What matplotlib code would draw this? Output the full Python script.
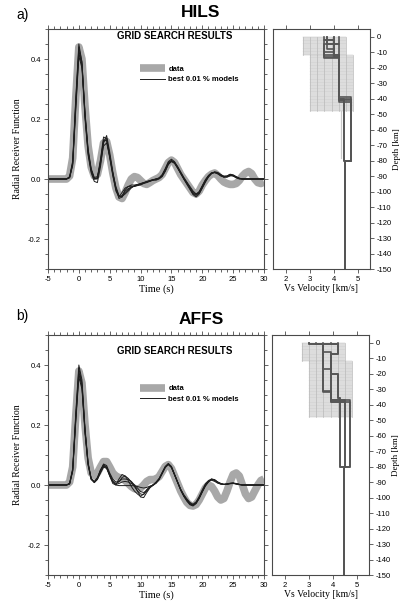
import matplotlib
matplotlib.use('Agg')
from matplotlib import pyplot
from matplotlib.ticker import MultipleLocator, FormatStrFormatter

pyplot.rcParams['font.family'] = ['Liberation Sans', 'DejaVu Sans']
pyplot.rcParams['axes.unicode_minus'] = False

# time samples (s)
time = [-5, -2, -1.5, -1, -0.5, 0, 0.5, 1, 1.5, 2,
        2.5, 3, 3.5, 4, 4.5, 5, 5.5, 6, 6.5, 7,
        7.5, 8, 8.5, 9, 9.5, 10, 10.5, 11, 11.5, 12,
        12.5, 13, 13.5, 14, 14.5, 15, 15.5, 16, 16.5, 17,
        17.5, 18, 18.5, 19, 19.5, 20, 20.5, 21, 21.5, 22,
        22.5, 23, 23.5, 24, 24.5, 25, 25.5, 26, 26.5, 27,
        27.5, 28, 28.5, 29, 29.5, 30]

# ---- HILS ----
hils_data = [0.0, 0.0, 0.01, 0.07, 0.27, 0.44, 0.40, 0.24, 0.11, 0.04,
             0.01, 0.015, 0.06, 0.12, 0.125, 0.08, 0.02, -0.03, -0.06, -0.065,
             -0.045, -0.02, 0.0, 0.008, 0.005, -0.005, -0.015, -0.018, -0.012, -0.005,
             0.0, 0.005, 0.015, 0.035, 0.055, 0.063, 0.055, 0.035, 0.015, 0.0,
             -0.015, -0.03, -0.045, -0.05, -0.04, -0.02, -0.005, 0.008, 0.016, 0.02,
             0.012, 0.0, -0.01, -0.015, -0.018, -0.018, -0.015, -0.005, 0.01, 0.02,
             0.025, 0.018, 0.0, -0.012, -0.015, -0.01]

hils_models = [
    [0.0, 0.0, 0.005, 0.05, 0.25, 0.43, 0.38, 0.21, 0.09, 0.03,
     0.0, 0.0, 0.06, 0.13, 0.13, 0.07, 0.01, -0.035, -0.06, -0.055,
     -0.04, -0.032, -0.027, -0.024, -0.021, -0.018, -0.014, -0.01, -0.007, -0.004,
     -0.002, 0.002, 0.012, 0.032, 0.055, 0.062, 0.055, 0.038, 0.02, 0.003,
     -0.012, -0.03, -0.05, -0.055, -0.045, -0.025, -0.005, 0.01, 0.02, 0.023,
     0.02, 0.012, 0.006, 0.008, 0.013, 0.01, 0.004, 0.0, 0.0, 0.0,
     0.0, 0.0, 0.0, 0.0, 0.0, 0.0],
    [0.0, 0.0, 0.008, 0.06, 0.27, 0.45, 0.39, 0.22, 0.10, 0.035,
     0.005, 0.008, 0.05, 0.11, 0.12, 0.075, 0.02, -0.025, -0.055, -0.06,
     -0.045, -0.035, -0.028, -0.022, -0.02, -0.016, -0.012, -0.008, -0.005, -0.002,
     0.0, 0.004, 0.015, 0.035, 0.058, 0.066, 0.058, 0.04, 0.02, 0.0,
     -0.018, -0.035, -0.052, -0.06, -0.05, -0.03, -0.01, 0.006, 0.018, 0.024,
     0.022, 0.015, 0.008, 0.006, 0.01, 0.012, 0.007, 0.002, 0.0, 0.0,
     0.0, 0.0, 0.0, 0.0, 0.0, 0.0],
    [0.0, 0.0, 0.004, 0.045, 0.23, 0.41, 0.37, 0.20, 0.08, 0.02,
     -0.008, -0.012, 0.04, 0.12, 0.145, 0.09, 0.025, -0.03, -0.065, -0.06,
     -0.035, -0.025, -0.02, -0.02, -0.018, -0.015, -0.012, -0.01, -0.006, -0.003,
     -0.004, 0.0, 0.008, 0.025, 0.048, 0.058, 0.052, 0.036, 0.018, 0.0,
     -0.015, -0.028, -0.045, -0.05, -0.042, -0.022, -0.002, 0.012, 0.021, 0.022,
     0.017, 0.01, 0.008, 0.01, 0.015, 0.012, 0.006, 0.002, 0.0, 0.0,
     0.0, 0.0, 0.0, 0.0, 0.0, 0.0],
    [0.0, 0.0, 0.006, 0.055, 0.26, 0.44, 0.39, 0.21, 0.085, 0.025,
     0.0, 0.005, 0.065, 0.14, 0.135, 0.075, 0.015, -0.04, -0.06, -0.045,
     -0.03, -0.025, -0.024, -0.025, -0.022, -0.02, -0.015, -0.012, -0.008, -0.004,
     0.0, 0.003, 0.01, 0.028, 0.05, 0.06, 0.056, 0.042, 0.024, 0.006,
     -0.01, -0.025, -0.04, -0.05, -0.048, -0.03, -0.01, 0.008, 0.018, 0.022,
     0.02, 0.014, 0.01, 0.01, 0.016, 0.014, 0.008, 0.003, 0.0, 0.0,
     0.0, 0.0, 0.0, 0.0, 0.0, 0.0],
    [0.0, 0.0, 0.005, 0.05, 0.24, 0.42, 0.38, 0.22, 0.095, 0.03,
     0.002, 0.002, 0.055, 0.125, 0.13, 0.08, 0.02, -0.03, -0.058, -0.058,
     -0.05, -0.04, -0.03, -0.023, -0.019, -0.017, -0.013, -0.009, -0.006, -0.003,
     0.0, 0.002, 0.01, 0.03, 0.052, 0.06, 0.054, 0.037, 0.019, 0.002,
     -0.014, -0.032, -0.048, -0.052, -0.043, -0.024, -0.006, 0.01, 0.019, 0.021,
     0.018, 0.011, 0.006, 0.007, 0.012, 0.01, 0.005, 0.001, 0.0, 0.0,
     0.0, 0.0, 0.0, 0.0, 0.0, 0.0],
]

# velocity models: layer top depths (km) and Vs (km/s)
hils_tops = [[0, -2, -12, -40, -80],
             [0, -5, -13, -41, -80],
             [0, -8, -12, -39, -80],
             [0, -10, -14, -42, -80],
             [0, -2, -13, -40, -80],
             [0, -5, -12, -41, -80]]
hils_vs = [[4.0, 3.6, 4.2, 4.7, 4.45],
           [4.2, 3.6, 4.2, 4.4, 4.45],
           [3.7, 4.0, 4.2, 4.7, 4.45],
           [4.0, 3.6, 4.2, 4.7, 4.45],
           [3.6, 4.0, 4.2, 4.4, 4.45],
           [3.7, 4.2, 4.2, 4.7, 4.45]]

# ---- AFFS ----
affs_data = [0.0, 0.0, 0.01, 0.06, 0.23, 0.38, 0.34, 0.20, 0.09, 0.04,
             0.03, 0.04, 0.06, 0.078, 0.078, 0.06, 0.04, 0.03, 0.025, 0.022,
             0.015, 0.005, -0.005, -0.012, -0.015, -0.01, 0.0, 0.012, 0.018, 0.018,
             0.02, 0.028, 0.045, 0.062, 0.068, 0.055, 0.03, 0.005, -0.02, -0.04,
             -0.058, -0.068, -0.07, -0.065, -0.05, -0.03, -0.01, 0.0, -0.005, -0.02,
             -0.04, -0.05, -0.045, -0.02, 0.01, 0.035, 0.04, 0.03, 0.0, -0.03,
             -0.045, -0.04, -0.02, 0.0, 0.015, 0.02]

affs_models = [
    [0.0, 0.0, 0.004, 0.05, 0.22, 0.38, 0.33, 0.18, 0.07, 0.02,
     0.01, 0.02, 0.05, 0.068, 0.06, 0.03, 0.005, 0.0, 0.02, 0.035,
     0.03, 0.015, -0.005, -0.02, -0.03, -0.038, -0.03, -0.015, -0.005, 0.0,
     0.008, 0.02, 0.04, 0.06, 0.07, 0.06, 0.035, 0.01, -0.015, -0.035,
     -0.05, -0.062, -0.066, -0.058, -0.042, -0.02, 0.0, 0.012, 0.018, 0.015,
     0.008, 0.004, 0.002, 0.003, 0.005, 0.006, 0.004, 0.002, 0.0, 0.0,
     0.0, 0.0, 0.0, 0.0, 0.0, 0.0],
    [0.0, 0.0, 0.006, 0.055, 0.24, 0.40, 0.35, 0.19, 0.075, 0.022,
     0.008, 0.018, 0.04, 0.06, 0.055, 0.03, 0.01, 0.0, -0.002, -0.002,
     -0.002, -0.002, -0.002, -0.003, -0.005, -0.008, -0.01, -0.008, -0.004, 0.0,
     0.006, 0.018, 0.038, 0.058, 0.068, 0.058, 0.034, 0.008, -0.018, -0.038,
     -0.054, -0.066, -0.07, -0.062, -0.045, -0.024, -0.004, 0.01, 0.02, 0.018,
     0.01, 0.005, 0.002, 0.002, 0.004, 0.005, 0.003, 0.001, 0.0, 0.0,
     0.0, 0.0, 0.0, 0.0, 0.0, 0.0],
    [0.0, 0.0, 0.003, 0.045, 0.21, 0.36, 0.32, 0.17, 0.065, 0.018,
     0.01, 0.022, 0.048, 0.07, 0.065, 0.04, 0.02, 0.01, 0.012, 0.02,
     0.02, 0.018, 0.012, 0.0, -0.02, -0.04, -0.042, -0.025, -0.01, 0.0,
     0.01, 0.022, 0.042, 0.062, 0.072, 0.062, 0.036, 0.01, -0.014, -0.032,
     -0.046, -0.058, -0.064, -0.056, -0.038, -0.016, 0.004, 0.015, 0.02, 0.016,
     0.008, 0.003, 0.002, 0.004, 0.006, 0.007, 0.005, 0.002, 0.0, 0.0,
     0.0, 0.0, 0.0, 0.0, 0.0, 0.0],
    [0.0, 0.0, 0.005, 0.05, 0.23, 0.39, 0.34, 0.18, 0.07, 0.02,
     0.012, 0.025, 0.05, 0.065, 0.058, 0.035, 0.015, 0.005, 0.01, 0.025,
     0.03, 0.022, 0.01, -0.005, -0.02, -0.03, -0.032, -0.02, -0.008, 0.0,
     0.007, 0.019, 0.04, 0.059, 0.069, 0.059, 0.034, 0.009, -0.016, -0.036,
     -0.052, -0.064, -0.068, -0.06, -0.044, -0.022, -0.002, 0.011, 0.016, 0.012,
     0.006, 0.003, 0.002, 0.003, 0.005, 0.006, 0.004, 0.002, 0.0, 0.0,
     0.0, 0.0, 0.0, 0.0, 0.0, 0.0],
    [0.0, 0.0, 0.004, 0.048, 0.22, 0.37, 0.33, 0.18, 0.07, 0.02,
     0.008, 0.02, 0.042, 0.062, 0.058, 0.035, 0.012, 0.002, 0.005, 0.01,
     0.012, 0.01, 0.005, 0.0, -0.01, -0.022, -0.025, -0.018, -0.008, -0.002,
     0.006, 0.019, 0.039, 0.06, 0.07, 0.06, 0.035, 0.01, -0.015, -0.035,
     -0.05, -0.062, -0.067, -0.06, -0.043, -0.021, -0.001, 0.012, 0.019, 0.017,
     0.01, 0.005, 0.002, 0.003, 0.005, 0.006, 0.004, 0.002, 0.0, 0.0,
     0.0, 0.0, 0.0, 0.0, 0.0, 0.0],
]

affs_tops = [[0, -1, -32, -37, -80],
             [0, -1, -7, -20, -36, -80],
             [0, -17, -38, -80],
             [0, -1, -7, -38, -80],
             [0, -1, -6, -20, -36, -80],
             [0, -1, -31, -37, -80]]
affs_vs = [[3.0, 3.6, 3.9, 4.7, 4.45],
           [3.3, 4.2, 3.9, 4.2, 4.3, 4.45],
           [3.6, 3.9, 4.5, 4.45],
           [3.9, 4.2, 3.9, 4.7, 4.45],
           [3.0, 3.6, 3.9, 4.2, 4.3, 4.45],
           [4.2, 3.6, 3.9, 4.5, 4.45]]

# grid search ranges (two crustal layers)
grid_vmin = [2.7, 3.0]
grid_vmax = [4.5, 4.8]
grid_top = [0, -12]
grid_bottom = [-12, -48]

W, H = 402, 606
FRAME = '#4a4a4a'


def rect(x0, y0, x1, y1):
    return [x0 / W, 1 - y1 / H, (x1 - x0) / W, (y1 - y0) / H]


def style_ticks(ax):
    for s in ax.spines.values():
        s.set_color(FRAME)
        s.set_linewidth(0.8)
    ax.tick_params(which='both', direction='out', color=FRAME, width=0.6,
                   labelsize=5.5, pad=2)
    ax.tick_params(which='major', length=3)
    ax.tick_params(which='minor', length=2)


def plot_rf(ax, data, models, gs_y, leg_y):
    ax.plot(time, data, color='#a8a8a8', lw=5.5, solid_capstyle='butt', label='data')
    for i, m in enumerate(models):
        ax.plot(time, m, color='#1e1e1e', lw=0.7,
                label='best 0.01 % models' if i == 0 else None)
    ax.set_xlim(-5, 30)
    ax.set_ylim(-0.3, 0.5)
    ax.xaxis.set_major_locator(MultipleLocator(5))
    ax.xaxis.set_minor_locator(MultipleLocator(1))
    ax.yaxis.set_major_locator(MultipleLocator(0.2))
    ax.yaxis.set_minor_locator(MultipleLocator(0.05))
    ax.yaxis.set_major_formatter(FormatStrFormatter('%.1f'))
    style_ticks(ax)
    ax.tick_params(which='both', top=True, right=True)
    ax.set_xlabel('Time (s)', family='Liberation Serif', fontsize=7.5, labelpad=1)
    ax.set_ylabel('Radial Receiver Function', family='Liberation Serif', fontsize=7,
                  labelpad=4)
    ax.text(0.585, gs_y, 'GRID SEARCH RESULTS', transform=ax.transAxes,
            ha='center', va='center', fontsize=7, weight='bold')
    ax.legend(loc='center left', bbox_to_anchor=(0.426, leg_y), frameon=False,
              borderpad=0, borderaxespad=0, handlelength=3.3, handletextpad=0.4,
              labelspacing=0.4, prop={'size': 5.5, 'weight': 'bold'})


def plot_vs(ax, tops, vels, extra=None):
    for k in range(len(grid_vmin)):
        ax.fill_between([grid_vmin[k], grid_vmax[k]], grid_bottom[k], grid_top[k],
                        color='#e6e6e6', lw=0)
        d = grid_top[k]
        while d >= grid_bottom[k]:
            ax.plot([grid_vmin[k], grid_vmax[k]], [d, d], color='#c2c2c2', lw=0.35)
            d -= 1
        v = grid_vmin[k]
        while v <= grid_vmax[k] + 1e-6:
            ax.plot([v, v], [grid_top[k], grid_bottom[k]], color='#b8b8b8', lw=0.5)
            v += 0.3
    if extra is not None:
        ax.plot([extra[0], extra[0]], [extra[1], extra[2]], color='#c8c8c8', lw=0.9)
    for t, vs in zip(tops, vels):
        xs, ys = [], []
        for i, v in enumerate(vs):
            bottom = t[i + 1] if i + 1 < len(t) else -150
            xs += [v, v]
            ys += [t[i], bottom]
        ax.plot(xs, ys, color='#555555', lw=1.2)
    ax.set_xlim(1.45, 5.5)
    ax.set_ylim(-150, 5)
    ax.set_xticks([2, 3, 4, 5])
    ax.yaxis.set_major_locator(MultipleLocator(10))
    ax.yaxis.tick_right()
    ax.yaxis.set_label_position('right')
    style_ticks(ax)
    ax.tick_params(top=True, left=False)
    ax.set_xlabel('Vs Velocity [km/s]', family='Liberation Serif', fontsize=7,
                  labelpad=1)
    ax.set_ylabel('Depth [km]', family='Liberation Serif', fontsize=6.5, labelpad=0.5)


fig = pyplot.figure(figsize=(W / 100, H / 100), dpi=100)

ax_a = fig.add_axes(rect(48, 29, 264, 269))
plot_rf(ax_a, hils_data, hils_models, 0.971, 0.81)
ax_a2 = fig.add_axes(rect(273, 29, 370, 269))
plot_vs(ax_a2, hils_tops, hils_vs, extra=(4.3, -48, -78))

ax_b = fig.add_axes(rect(48, 335, 264, 575))
plot_rf(ax_b, affs_data, affs_models, 0.933, 0.755)
ax_b2 = fig.add_axes(rect(272, 335, 369, 575))
plot_vs(ax_b2, affs_tops, affs_vs)

fig.text(201 / W, 1 - 12.5 / H, 'HILS', ha='center', va='center', fontsize=12.5,
         weight='bold')
fig.text(16 / W, 1 - 15 / H, 'a)', ha='left', va='center', fontsize=10)
fig.text(201 / W, 1 - 319 / H, 'AFFS', ha='center', va='center', fontsize=12.5,
         weight='bold')
fig.text(16 / W, 1 - 316 / H, 'b)', ha='left', va='center', fontsize=10)

fig.savefig('out.png', dpi=100)
pyplot.close(fig)
